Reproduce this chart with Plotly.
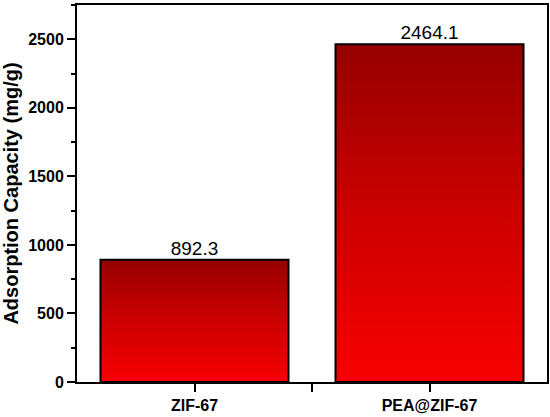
import plotly.graph_objects as go

categories = ['ZIF-67', 'PEA@ZIF-67']
capacity = [892.3, 2464.1]

bar_w = 0.8
font = 'Liberation Sans, Arial'
fig = go.Figure()

# gradient-filled bars (dark red top -> bright red bottom)
for i, v in enumerate(capacity):
    xs = [i - bar_w / 2, i + bar_w / 2, i + bar_w / 2, i - bar_w / 2, i - bar_w / 2]
    ys = [0, 0, v, v, 0]
    fig.add_trace(go.Scatter(
        x=xs, y=ys, mode='lines', fill='toself',
        line=dict(color='black', width=2),
        fillgradient=dict(type='vertical',
                          colorscale=[[0, '#f80000'], [0.5, '#cc0000'], [1, '#960000']]),
        hoverinfo='skip', showlegend=False))

# value labels
fig.add_trace(go.Scatter(
    x=list(range(len(categories))), y=capacity, mode='text',
    text=[f'{v:.1f}' for v in capacity], textposition='top center',
    textfont=dict(family=font, size=19, color='black'),
    showlegend=False, hoverinfo='skip'))

axis_common = dict(showline=True, linecolor='black', linewidth=2, mirror=True,
                   ticks='outside', tickwidth=2, ticklen=8, tickcolor='black',
                   showgrid=False, zeroline=False)

fig.update_xaxes(range=[-0.5, 1.5], tickvals=list(range(len(categories))), ticktext=categories,
                 tickfont=dict(family=font, size=16, color='black', weight='bold'),
                 minor=dict(tickvals=[0.5], ticks='outside', ticklen=8, tickwidth=2, tickcolor='black'),
                 **axis_common)
fig.update_yaxes(range=[0, 2750], tickvals=[0, 500, 1000, 1500, 2000, 2500],
                 tickfont=dict(family=font, size=16, color='black', weight='bold'),
                 minor=dict(dtick=250, tick0=0, ticks='outside', ticklen=4, tickwidth=2, tickcolor='black'),
                 title=dict(text='Adsorption Capacity (mg/g)', standoff=6,
                            font=dict(family=font, size=20, color='black', weight='bold')),
                 **axis_common)

fig.update_layout(width=550, height=417, plot_bgcolor='white', paper_bgcolor='white',
                  margin=dict(l=77, r=3, t=5, b=35, autoexpand=False))

fig.write_html("out.html", config={'displayModeBar': False},
               post_script="document.body.style.margin='0';")
